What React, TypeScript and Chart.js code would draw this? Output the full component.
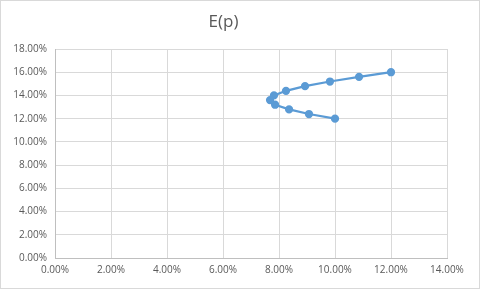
import React, { useEffect, useRef } from "react";
import { Chart, registerables } from "chart.js";

Chart.register(...registerables);

const titleText = "E(p)";
const xValues = [10.0, 9.07, 8.36, 7.86, 7.68, 7.82, 8.25, 8.93, 9.82, 10.86, 12.0];
const yValues = [12.0, 12.4, 12.8, 13.2, 13.6, 14.0, 14.4, 14.8, 15.2, 15.6, 16.0];

const bgPlugin = {
  id: "bg",
  beforeDraw(chart: any) {
    const ctx = chart.ctx;
    ctx.save();
    ctx.fillStyle = "#ffffff";
    ctx.fillRect(0, 0, chart.width, chart.height);
    ctx.strokeStyle = "#d9d9d9";
    ctx.lineWidth = 1;
    ctx.strokeRect(0.5, 0.5, chart.width - 1, chart.height - 1);
    ctx.restore();
  },
};

export default function App() {
  const ref = useRef<HTMLCanvasElement | null>(null);
  useEffect(() => {
    document.body.style.margin = "0";
    const points = xValues.map((x, i) => ({ x, y: yValues[i] }));
    const font = { family: "'Open Sans', 'Liberation Sans', sans-serif", size: 10 };
    const chart = new Chart(ref.current!, {
      type: "scatter",
      data: {
        datasets: [
          {
            data: points,
            showLine: true,
            borderColor: "#5b9bd5",
            backgroundColor: "#5b9bd5",
            borderWidth: 2.25,
            pointRadius: 3,
            pointHoverRadius: 3,
            tension: 0,
          },
        ],
      },
      options: {
        animation: false,
        responsive: false,
        layout: { padding: { left: 0, right: 33, top: 0, bottom: 0 } },
        plugins: {
          legend: { display: false },
          tooltip: { enabled: false },
          title: {
            display: true,
            text: titleText,
            color: "#595959",
            font: { family: "'Open Sans', 'Liberation Sans', sans-serif", size: 17, weight: "normal" },
            padding: { top: 12, bottom: 16.6 },
          },
        },
        scales: {
          x: {
            type: "linear",
            min: 0,
            max: 14,
            ticks: {
              stepSize: 2,
              color: "#595959",
              font,
              padding: 6,
              maxRotation: 0,
              callback: (v: any) => Number(v).toFixed(2) + "%",
            },
            grid: { color: "#d9d9d9", drawTicks: false },
            border: { color: "#bfbfbf" },
            afterFit: (s: any) => {
              s.height = 31;
            },
          },
          y: {
            type: "linear",
            min: 0,
            max: 18,
            ticks: {
              stepSize: 2,
              color: "#595959",
              font,
              padding: 8,
              callback: (v: any) => Number(v).toFixed(2) + "%",
            },
            grid: { color: "#d9d9d9", drawTicks: false },
            border: { color: "#bfbfbf" },
            afterFit: (s: any) => {
              s.width = 55;
            },
          },
        },
      },
      plugins: [bgPlugin],
    });
    return () => chart.destroy();
  }, []);
  return <canvas ref={ref} width={480} height={289} style={{ display: "block" }} />;
}
